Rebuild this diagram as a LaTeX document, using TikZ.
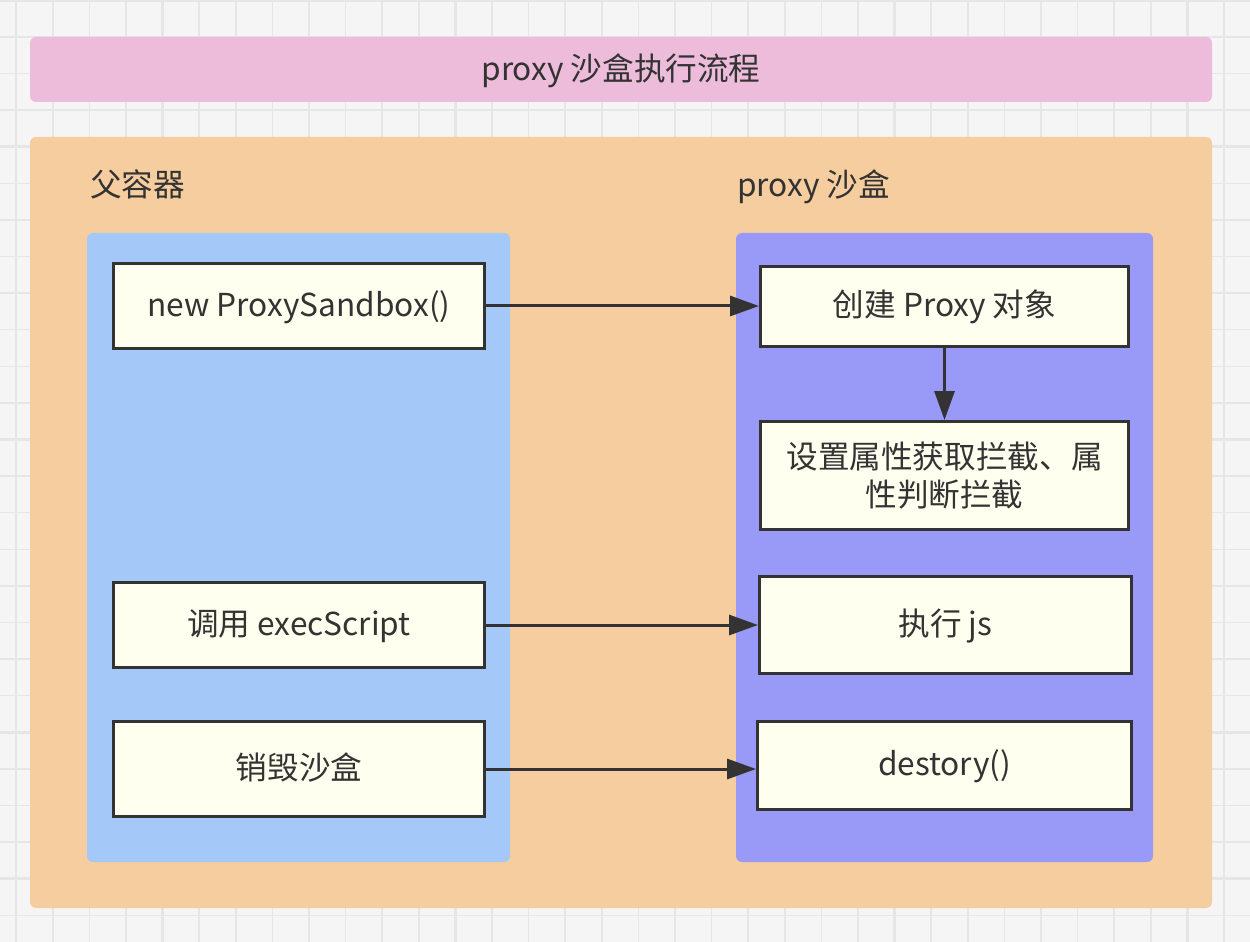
\documentclass[tikz,border=0pt]{standalone}
\usepackage{fontspec}
\setmainfont{Noto Sans CJK SC}
\usetikzlibrary{arrows.meta}
\definecolor{bgc}{HTML}{F5F5F5}
\definecolor{gridc}{HTML}{E6E6E6}
\definecolor{pinkc}{HTML}{EDBCDA}
\definecolor{orangec}{HTML}{F6CD9F}
\definecolor{bluec}{HTML}{A4C9F8}
\definecolor{purplec}{HTML}{9999F7}
\definecolor{boxc}{HTML}{FFFFF0}
\definecolor{inkc}{HTML}{333333}
\tikzset{
  gridline/.style={draw=gridc, line width=0.03cm},
  gridthick/.style={draw=gridc, line width=0.05cm},
  panel/.style={rounded corners=0.12cm},
  box/.style={draw=inkc, fill=boxc, line width=0.06cm, text=inkc, align=center,
    font=\fontsize{18pt}{21.6pt}\selectfont, inner sep=0pt},
  onerow/.style={text height=1.18em, text depth=0.04em},
  lbl/.style={text=inkc, inner sep=0pt, font=\fontsize{18pt}{21.6pt}\selectfont},
  conn/.style={draw=inkc, line width=0.06cm, -{Triangle[length=0.58cm,width=0.4cm]}},
}
\begin{document}
\begin{tikzpicture}[x=0.02cm, y=-0.02cm]
\useasboundingbox (0,0) rectangle (1250,942);
\fill[bgc] (0,0) rectangle (1250,942);
\foreach \i in {0,...,34} {
  \pgfmathsetmacro{\xx}{16.2+36.6*\i}
  \draw[gridline] (\xx,0) -- (\xx,942);
}
\foreach \i in {0,...,26} {
  \pgfmathsetmacro{\yy}{0.3+36.6*\i}
  \draw[gridline] (0,\yy) -- (1250,\yy);
}
\foreach \i in {0,...,8} {
  \pgfmathsetmacro{\xx}{16.2+146.4*\i}
  \draw[gridthick] (\xx,0) -- (\xx,942);
}
\foreach \i in {0,...,6} {
  \pgfmathsetmacro{\yy}{0.3+146.4*\i}
  \draw[gridthick] (0,\yy) -- (1250,\yy);
}
% panels
\fill[pinkc, panel] (30,37) rectangle (1212,102);
\node[lbl, onerow] (title) at (621,70) {proxy 沙盒执行流程};
\fill[orangec, panel] (30,137) rectangle (1212,908);
\node[lbl, anchor=west, onerow] (parent) at (90,186) {父容器};
\node[lbl, anchor=west, onerow] (sandbox) at (737,186) {proxy 沙盒};
\fill[bluec, panel] (87,233) rectangle (510,862);
\fill[purplec, panel] (736,233) rectangle (1153,862);
% left boxes
\node[box, onerow, minimum width=371*0.02cm, minimum height=85*0.02cm] (l1) at (299,306) {new ProxySandbox()};
\node[box, onerow, minimum width=371*0.02cm, minimum height=85*0.02cm] (l2) at (299,625) {调用 execScript};
\node[box, onerow, minimum width=371*0.02cm, minimum height=95*0.02cm] (l3) at (299,769) {销毁沙盒};
% right boxes
\node[box, onerow, minimum width=368*0.02cm, minimum height=80*0.02cm] (r1) at (944.5,306.5) {创建 Proxy 对象};
\node[box, minimum width=368*0.02cm, minimum height=108*0.02cm] (r2) at (944.5,475.5) {设置属性获取拦截、属\\性判断拦截};
\node[box, onerow, minimum width=372*0.02cm, minimum height=97*0.02cm] (r3) at (945.5,625) {执行 js};
\node[box, onerow, minimum width=374*0.02cm, minimum height=88*0.02cm] (r4) at (944.5,765.5) {destory()};
% connectors
\draw[conn] (l1.east) -- (l1.east -| r1.west);
\draw[conn] (r1.south) -- (r2.north);
\draw[conn] (l2.east) -- (l2.east -| r3.west);
\draw[conn] (l3.east) -- (l3.east -| r4.west);
\end{tikzpicture}
\end{document}
